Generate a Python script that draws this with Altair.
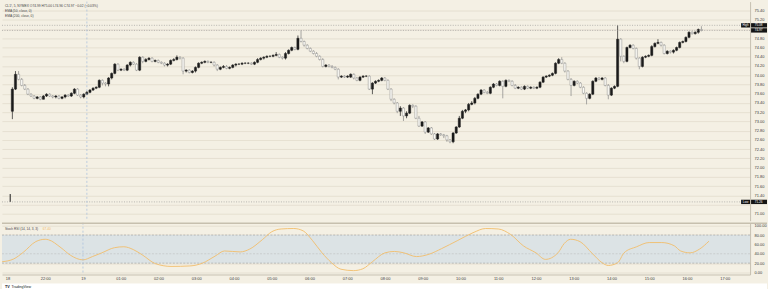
import json
import altair as alt
import pandas as pd

# ---------------- data (5-minute candles) ----------------
OPEN = [
    73.22,73.70,74.02,73.91,73.78,73.70,73.59,73.55,73.50,73.53,73.48,73.55,
    73.59,73.55,73.53,73.55,73.50,73.53,73.57,73.55,73.61,73.70,73.57,73.53,
    73.59,73.63,73.68,73.72,73.74,73.89,73.83,73.81,73.94,74.04,74.24,74.11,
    74.13,74.11,74.22,74.28,74.24,74.11,74.39,74.30,74.34,74.37,74.30,74.32,
    74.28,74.26,74.22,74.24,74.32,74.34,74.39,74.37,74.09,74.11,74.06,74.09,
    74.17,74.26,74.28,74.30,74.28,74.28,74.22,74.13,74.17,74.19,74.15,74.17,
    74.22,74.24,74.24,74.26,74.26,74.26,74.24,74.28,74.34,74.37,74.39,74.41,
    74.41,74.43,74.45,74.39,74.37,74.47,74.54,74.60,74.56,74.80,74.73,74.65,
    74.58,74.52,74.47,74.41,74.34,74.19,74.22,74.19,74.17,74.13,73.96,73.98,
    73.96,73.96,74.02,73.94,73.89,73.96,73.98,73.98,73.70,73.83,73.87,73.89,
    73.94,73.89,73.70,73.48,73.40,73.22,73.29,73.12,73.18,73.35,73.33,73.07,
    72.90,72.99,72.77,72.86,72.73,72.62,72.73,72.71,72.69,72.60,72.56,72.75,
    72.88,73.07,73.22,73.25,73.37,73.40,73.50,73.59,73.68,73.63,73.61,73.74,
    73.81,73.78,73.87,73.76,73.89,73.87,73.78,73.72,73.74,73.70,73.76,73.72,
    73.74,73.72,73.74,73.85,73.96,73.98,74.00,74.04,74.26,74.34,74.26,74.09,
    73.91,73.78,73.87,73.83,73.74,73.61,73.50,73.59,73.87,73.94,73.91,73.94,
    73.78,73.57,73.72,73.76,74.78,74.41,74.30,74.60,74.65,74.58,74.37,74.19,
    74.39,74.41,74.43,74.62,74.69,74.71,74.65,74.47,74.52,74.50,74.54,74.60,
    74.71,74.73,74.82,74.93,74.90,74.93,74.99,
]
CLOSE = [
    73.70,74.02,73.91,73.78,73.70,73.59,73.55,73.50,73.53,73.48,73.55,73.59,
    73.55,73.53,73.55,73.50,73.53,73.57,73.55,73.61,73.70,73.57,73.53,73.59,
    73.63,73.68,73.72,73.74,73.89,73.83,73.81,73.94,74.04,74.24,74.11,74.13,
    74.11,74.22,74.28,74.24,74.11,74.39,74.30,74.34,74.37,74.30,74.32,74.28,
    74.26,74.22,74.24,74.32,74.34,74.39,74.37,74.09,74.11,74.06,74.09,74.17,
    74.26,74.28,74.30,74.28,74.28,74.22,74.13,74.17,74.19,74.15,74.17,74.22,
    74.24,74.24,74.26,74.26,74.26,74.24,74.28,74.34,74.37,74.39,74.41,74.41,
    74.43,74.45,74.39,74.37,74.47,74.54,74.60,74.56,74.80,74.73,74.65,74.58,
    74.52,74.47,74.41,74.34,74.19,74.22,74.19,74.17,74.13,73.96,73.98,73.96,
    73.98,74.02,73.94,73.89,73.96,73.98,73.98,73.70,73.83,73.87,73.89,73.94,
    73.89,73.70,73.48,73.40,73.22,73.29,73.12,73.18,73.35,73.33,73.07,72.90,
    72.99,72.77,72.86,72.73,72.62,72.73,72.71,72.69,72.60,72.56,72.75,72.88,
    73.07,73.22,73.25,73.37,73.40,73.50,73.59,73.68,73.63,73.61,73.74,73.81,
    73.78,73.87,73.76,73.89,73.87,73.78,73.72,73.74,73.70,73.76,73.72,73.74,
    73.72,73.74,73.85,73.96,73.98,74.00,74.04,74.26,74.34,74.26,74.09,73.91,
    73.78,73.87,73.83,73.74,73.61,73.50,73.59,73.87,73.94,73.91,73.94,73.78,
    73.57,73.72,73.76,74.78,74.41,74.30,74.60,74.65,74.58,74.37,74.19,74.39,
    74.41,74.43,74.62,74.69,74.71,74.65,74.47,74.52,74.50,74.54,74.60,74.71,
    74.73,74.82,74.93,74.90,74.93,74.99,74.97,
]
HIGH = [
    73.74,74.09,74.09,73.94,73.81,73.72,73.61,73.57,73.55,73.55,73.57,73.61,
    73.61,73.57,73.57,73.57,73.55,73.59,73.59,73.63,73.72,73.72,73.59,73.61,
    73.66,73.70,73.74,73.76,73.91,73.91,73.85,73.96,74.06,74.26,74.26,74.15,
    74.15,74.24,74.30,74.30,74.26,74.41,74.41,74.37,74.39,74.39,74.34,74.34,
    74.30,74.28,74.26,74.34,74.37,74.43,74.41,74.39,74.13,74.13,74.11,74.19,
    74.28,74.30,74.32,74.32,74.30,74.30,74.24,74.19,74.22,74.22,74.19,74.24,
    74.26,74.26,74.28,74.28,74.28,74.28,74.30,74.37,74.39,74.41,74.43,74.43,
    74.45,74.50,74.47,74.41,74.50,74.56,74.62,74.62,74.86,74.97,74.75,74.67,
    74.60,74.54,74.50,74.43,74.37,74.24,74.24,74.22,74.19,74.15,74.00,74.00,
    74.00,74.04,74.04,73.96,73.98,74.00,74.00,74.00,73.85,73.89,73.91,73.96,
    73.96,73.91,73.72,73.50,73.42,73.33,73.31,73.22,73.37,73.37,73.35,73.12,
    73.01,73.01,72.88,72.88,72.75,72.75,72.75,72.73,72.71,72.62,72.77,72.90,
    73.12,73.25,73.27,73.40,73.44,73.53,73.61,73.70,73.70,73.66,73.76,73.83,
    73.83,73.89,73.89,73.91,73.91,73.89,73.81,73.76,73.76,73.78,73.78,73.76,
    73.76,73.76,73.87,73.98,74.00,74.02,74.06,74.28,74.37,74.39,74.28,74.11,
    73.94,73.89,73.89,73.85,73.76,73.63,73.61,73.89,73.96,73.96,73.96,73.96,
    73.81,73.74,73.78,75.08,74.80,74.43,74.62,74.67,74.67,74.60,74.39,74.41,
    74.43,74.45,74.65,74.71,74.78,74.73,74.67,74.54,74.54,74.56,74.62,74.73,
    74.75,74.84,74.95,74.95,74.95,75.01,75.06,
]
LOW = [
    73.05,73.68,73.89,73.76,73.68,73.57,73.53,73.48,73.48,73.46,73.48,73.53,
    73.53,73.50,73.50,73.48,73.48,73.50,73.53,73.53,73.59,73.55,73.50,73.50,
    73.57,73.61,73.66,73.70,73.72,73.78,73.76,73.76,73.91,74.02,74.09,74.09,
    74.09,74.09,74.19,74.22,74.09,74.09,74.26,74.28,74.32,74.28,74.28,74.26,
    74.24,74.19,74.19,74.22,74.30,74.32,74.34,74.02,74.06,74.04,74.04,74.06,
    74.15,74.24,74.26,74.26,74.26,74.19,74.09,74.11,74.15,74.13,74.13,74.15,
    74.19,74.22,74.22,74.24,74.24,74.22,74.22,74.26,74.32,74.34,74.37,74.39,
    74.39,74.41,74.37,74.34,74.34,74.45,74.52,74.54,74.54,74.71,74.62,74.56,
    74.50,74.45,74.39,74.32,74.17,74.17,74.17,74.15,74.11,73.91,73.94,73.94,
    73.94,73.94,73.91,73.87,73.87,73.94,73.96,73.68,73.59,73.81,73.85,73.87,
    73.87,73.68,73.44,73.37,73.18,73.12,73.01,73.07,73.16,73.29,73.05,72.88,
    72.88,72.73,72.75,72.71,72.60,72.60,72.69,72.64,72.56,72.53,72.53,72.73,
    72.86,73.05,73.18,73.22,73.35,73.37,73.48,73.57,73.61,73.59,73.59,73.72,
    73.76,73.76,73.50,73.74,73.85,73.76,73.70,73.70,73.68,73.68,73.70,73.70,
    73.70,73.70,73.72,73.83,73.94,73.96,73.98,74.02,74.24,74.24,74.06,73.89,
    73.55,73.76,73.81,73.72,73.59,73.37,73.48,73.57,73.85,73.89,73.89,73.76,
    73.48,73.55,73.70,73.74,74.30,74.26,74.28,74.58,74.56,74.34,74.13,74.17,
    74.37,74.39,74.41,74.60,74.67,74.62,74.45,74.45,74.47,74.47,74.52,74.58,
    74.69,74.71,74.80,74.88,74.88,74.90,74.95,
]

# isolated low print at the very left edge
SPIKE_BAR = [-0.7]
SPIKE_TOP = [71.43]
SPIKE_BOTTOM = [71.26]

HIGH_MARK = 75.08
LAST_PRICE = 74.97
LOW_MARK = 71.26

# Stoch RSI (%K) samples
RSI_BAR = [-1.7, 2, 5, 9, 12, 13, 17, 20, 24, 27, 30, 34, 37, 40, 43, 47, 52, 58, 62, 66,
           69, 74, 77, 81, 84, 87, 91, 94, 97, 100, 103, 106, 110, 113, 116, 120, 123,
           126, 130, 134, 138, 143, 148, 152, 156, 160, 164, 168, 171, 175, 177, 179,
           182, 186, 189, 191, 194, 196, 200, 204, 208, 212, 214, 217, 220, 223]
RSI_VAL = [23, 29, 43, 66, 71, 70, 53, 37, 27, 34, 42, 53, 55, 49, 37, 19, 13, 14, 20, 35,
           46, 44, 50, 70, 87, 93, 94, 89, 68, 42, 21, 7, 4, 8, 23, 42, 45,
           42, 34, 39, 51, 68, 85, 94, 93, 81, 57, 42, 28, 42, 62, 71,
           66, 40, 21, 15, 21, 42, 55, 64, 64, 57, 46, 42, 50, 67]
BAND_LO, BAND_HI = 20, 80

PRICE_TICKS = [71.00, 71.20, 71.40, 71.60, 71.80, 72.00, 72.20, 72.40, 72.60, 72.80,
               73.00, 73.20, 73.40, 73.60, 73.80, 74.00, 74.20, 74.40, 74.60, 74.80,
               75.00, 75.20, 75.40]
RSI_TICKS = [0, 20, 40, 60, 80, 100]
TIME_TICKS = [0, 12, 24, 36, 48, 60, 72, 84, 96, 108, 120, 132, 144, 156, 168, 180,
              192, 204, 216, 228]
TIME_LABELS = ["18", "22:00", "19", "01:00", "02:00", "03:00", "04:00", "05:00", "06:00",
               "07:00", "08:00", "09:00", "10:00", "11:00", "12:00", "13:00", "14:00",
               "15:00", "16:00", "17:00"]
DAY_BREAK = [24]

HEADER = ["CL1!, 5, NYMEX  O74.99  H75.00  L74.96  C74.97  −0.02 (−0.03%)",
          "EMA (50, close, 0)",
          "EMA (200, close, 0)"]
RSI_TITLE = "Stoch RSI (14, 14, 3, 3)"
RSI_NOW = "67.40"

# ---------------- styling ----------------
FONT = "Liberation Sans"
BG = "#f4f0e4"
GRID = "#e2dccd"
AXISC = "#bdb6a6"
UP = "#1b1b1b"
DOWN_FILL = "#fbfaf5"
DOWN_LINE = "#858585"
ORANGE = "#f2bd6a"
BAND = "#dce3e5"
W, H_TOP, H_BOT = 751, 220, 52

X_SCALE = alt.Scale(domain=[-1.74, 236.07], nice=False, zero=False)
P_SCALE = alt.Scale(domain=[70.853, 75.594], nice=False, zero=False)
R_SCALE = alt.Scale(domain=[-4.26, 106.4], nice=False, zero=False)

# labels that sit under the price tags are left blank (grid lines stay)
P_LABELS = ("abs(datum.value - %.2f) < 0.09 || abs(datum.value - %.2f) < 0.09 ? '' : datum.label"
            % (LAST_PRICE, LOW_MARK))

P_AXIS = alt.Axis(orient="right", values=PRICE_TICKS, format=".2f", title=None, grid=True,
                  gridColor=GRID, gridWidth=0.8, ticks=False, labelFontSize=4,
                  labelColor="#3a3a3a", labelPadding=4, domainColor=AXISC, domainWidth=0.8,
                  labelFont=FONT, labelOverlap=False, labelFlush=False, labelExpr=P_LABELS)
R_AXIS = alt.Axis(orient="right", values=RSI_TICKS, format=".2f", title=None, grid=True,
                  gridColor=GRID, gridWidth=0.8, ticks=False, labelFontSize=4,
                  labelColor="#3a3a3a", labelPadding=4, domainColor=AXISC, domainWidth=0.8,
                  labelFont=FONT, labelOverlap=False, labelFlush=False)
X_AXIS = alt.Axis(values=TIME_TICKS, labelExpr=json.dumps(TIME_LABELS) + "[round(datum.value/12)]",
                  title=None, grid=False, ticks=False, labelFontSize=4, labelColor="#3a3a3a",
                  labelPadding=2, domainColor=AXISC, domainWidth=0.8, labelFont=FONT,
                  labelOverlap=False, labelFlush=False)

bars = pd.DataFrame({"bar": list(range(len(OPEN))), "open": OPEN, "high": HIGH,
                     "low": LOW, "close": CLOSE})
bars["dir"] = ["up" if c >= o else "down" for o, c in zip(OPEN, CLOSE)]

X_TOP = alt.X("bar:Q", scale=X_SCALE, axis=None)
DIR = alt.Scale(domain=["up", "down"], range=[UP, DOWN_LINE])
DIR_FILL = alt.Scale(domain=["up", "down"], range=[UP, DOWN_FILL])

wicks = alt.Chart(bars).mark_rule(strokeWidth=0.7).encode(
    x=X_TOP, y=alt.Y("low:Q", scale=P_SCALE, axis=P_AXIS), y2="high:Q",
    color=alt.Color("dir:N", scale=DIR, legend=None))

bodies = alt.Chart(bars).mark_bar(size=2.2, strokeWidth=0.45).encode(
    x=X_TOP, y=alt.Y("open:Q", scale=P_SCALE, axis=P_AXIS), y2="close:Q",
    fill=alt.Fill("dir:N", scale=DIR_FILL, legend=None),
    stroke=alt.Stroke("dir:N", scale=DIR, legend=None))

spike = alt.Chart(pd.DataFrame({"bar": SPIKE_BAR, "top": SPIKE_TOP, "bot": SPIKE_BOTTOM})).mark_rule(
    strokeWidth=1, color=UP).encode(
    x=X_TOP, y=alt.Y("top:Q", scale=P_SCALE, axis=P_AXIS), y2="bot:Q")

levels = pd.DataFrame({"price": [HIGH_MARK, LAST_PRICE, LOW_MARK]})
level_lines = alt.Chart(levels).mark_rule(strokeWidth=0.6, strokeDash=[1, 1.5], color="#8e8e8e").encode(
    x=alt.value(0), x2=alt.value(W), y=alt.Y("price:Q", scale=P_SCALE, axis=P_AXIS))

day_top = alt.Chart(pd.DataFrame({"bar": DAY_BREAK})).mark_rule(
    strokeWidth=0.7, strokeDash=[2, 2], color="#a3bcdc").encode(
    x=X_TOP, y=alt.value(0), y2=alt.value(H_TOP))

tags = pd.DataFrame({"price": [HIGH_MARK, LAST_PRICE, LOW_MARK],
                     "txt": ["%.2f" % HIGH_MARK, "%.2f" % LAST_PRICE, "%.2f" % LOW_MARK]})
tag_boxes = alt.Chart(tags).transform_calculate(
    t="datum.price + 0.047", b="datum.price - 0.047").mark_rect(color="#151515").encode(
    x=alt.value(W + 1), x2=alt.value(768),
    y=alt.Y("t:Q", scale=P_SCALE, axis=P_AXIS), y2="b:Q")
tag_text = alt.Chart(tags).mark_text(color="white", fontSize=3.1, font=FONT, baseline="middle",
                                     align="center").encode(
    x=alt.value(W + 8.5), y=alt.Y("price:Q", scale=P_SCALE, axis=P_AXIS), text="txt:N")

names = pd.DataFrame({"price": [HIGH_MARK, LOW_MARK], "txt": ["High", "Low"]})
name_boxes = alt.Chart(names).transform_calculate(
    t="datum.price + 0.047", b="datum.price - 0.047").mark_rect(color="#151515").encode(
    x=alt.value(W - 9), x2=alt.value(W),
    y=alt.Y("t:Q", scale=P_SCALE, axis=P_AXIS), y2="b:Q")
name_text = alt.Chart(names).mark_text(color="white", fontSize=3.0, font=FONT, baseline="middle",
                                       align="center").encode(
    x=alt.value(W - 4.5), y=alt.Y("price:Q", scale=P_SCALE, axis=P_AXIS), text="txt:N")

header_layers = []
for line, yy in zip(HEADER, [4.3, 9.8, 14.6]):
    header_layers.append(
        alt.Chart(pd.DataFrame({"t": [line]})).mark_text(
            align="left", baseline="middle", fontSize=3.3, font=FONT,
            color="#444444").encode(x=alt.value(3), y=alt.value(yy), text="t:N"))

top = alt.layer(wicks, bodies, spike, level_lines, day_top, tag_boxes, tag_text,
                name_boxes, name_text, *header_layers).properties(width=W, height=H_TOP)

# ---------------- lower pane ----------------
X_BOT = alt.X("bar:Q", scale=X_SCALE, axis=X_AXIS)
band = alt.Chart(pd.DataFrame({"lo": [BAND_LO], "hi": [BAND_HI]})).mark_rect(color=BAND).encode(
    x=alt.value(0), x2=alt.value(W), y=alt.Y("lo:Q", scale=R_SCALE, axis=R_AXIS), y2="hi:Q")
band_edges = alt.Chart(pd.DataFrame({"v": [BAND_LO, BAND_HI]})).mark_rule(
    strokeWidth=0.6, strokeDash=[2, 1.5], color="#9a9a9a").encode(
    x=alt.value(0), x2=alt.value(W), y=alt.Y("v:Q", scale=R_SCALE, axis=R_AXIS))
mid_line = alt.Chart(pd.DataFrame({"v": [40]})).mark_rule(
    strokeWidth=0.5, strokeDash=[2, 1.5], color="#b9b9b9").encode(
    x=alt.value(0), x2=alt.value(W), y=alt.Y("v:Q", scale=R_SCALE, axis=R_AXIS))
rsi_line = alt.Chart(pd.DataFrame({"bar": RSI_BAR, "val": RSI_VAL})).mark_line(
    color=ORANGE, strokeWidth=0.9, interpolate="monotone").encode(
    x=X_BOT, y=alt.Y("val:Q", scale=R_SCALE, axis=R_AXIS))
day_bot = alt.Chart(pd.DataFrame({"bar": DAY_BREAK})).mark_rule(
    strokeWidth=0.7, strokeDash=[2, 2], color="#a3bcdc").encode(
    x=X_BOT, y=alt.value(0), y2=alt.value(H_BOT))
sep = alt.Chart(pd.DataFrame({"a": [0]})).mark_rule(strokeWidth=1.6, color="#c6bfae").encode(
    x=alt.value(0), x2=alt.value(768), y=alt.value(0.5))
rsi_title = alt.Chart(pd.DataFrame({"t": [RSI_TITLE]})).mark_text(
    align="left", baseline="middle", fontSize=3.2, font=FONT, color="#444444").encode(
    x=alt.value(3), y=alt.value(6), text="t:N")
rsi_now = alt.Chart(pd.DataFrame({"t": [RSI_NOW]})).mark_text(
    align="left", baseline="middle", fontSize=3.2, font=FONT, color=ORANGE).encode(
    x=alt.value(41), y=alt.value(6), text="t:N")
strip = alt.Chart(pd.DataFrame({"a": [0]})).mark_rect(color="white").encode(
    x=alt.value(0), x2=alt.value(768), y=alt.value(61), y2=alt.value(69))
logo_a = alt.Chart(pd.DataFrame({"t": ["TV"]})).mark_text(
    align="left", baseline="middle", fontSize=3.8, font=FONT, fontWeight="bold",
    color="#131722").encode(x=alt.value(3), y=alt.value(65), text="t:N")
logo_b = alt.Chart(pd.DataFrame({"t": ["TradingView"]})).mark_text(
    align="left", baseline="middle", fontSize=3.6, font=FONT, color="#131722").encode(
    x=alt.value(9.5), y=alt.value(65), text="t:N")

bottom = alt.layer(band, mid_line, band_edges, rsi_line, day_bot, sep, rsi_title, rsi_now,
                   strip, logo_a, logo_b).properties(width=W, height=H_BOT)

chart = alt.vconcat(top, bottom, spacing=0).properties(
    padding=0, background=BG).configure_view(strokeWidth=0).configure_concat(spacing=0)

chart.save("out.html", embed_options={"renderer": "svg", "actions": False})
